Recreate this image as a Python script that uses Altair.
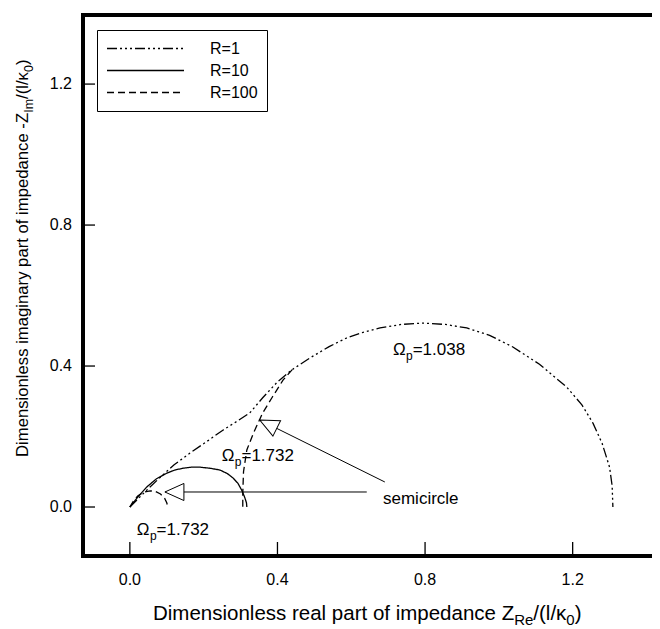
import altair as alt
import pandas as pd

# ---------------- data ----------------
r1_x = [0.0, 0.04, 0.08, 0.12, 0.163, 0.21, 0.252, 0.29, 0.325, 0.36, 0.40, 0.44, 0.488,
        0.54, 0.588, 0.63, 0.678, 0.735, 0.794, 0.855, 0.913, 0.975, 1.038, 1.11, 1.184,
        1.225, 1.255, 1.28, 1.30, 1.307, 1.309]
r1_y = [0.0, 0.042, 0.082, 0.12, 0.153, 0.187, 0.218, 0.243, 0.267, 0.31, 0.355, 0.39, 0.423,
        0.455, 0.48, 0.495, 0.508, 0.518, 0.522, 0.518, 0.508, 0.487, 0.454, 0.405, 0.34,
        0.29, 0.238, 0.18, 0.113, 0.06, 0.0]

r10_x = [0.0, 0.023, 0.046, 0.072, 0.1, 0.122, 0.144, 0.167, 0.19, 0.217, 0.244, 0.264,
         0.28, 0.293, 0.303, 0.311, 0.316, 0.317]
r10_y = [0.0, 0.03, 0.057, 0.08, 0.096, 0.105, 0.11, 0.113, 0.113, 0.11, 0.105, 0.095,
         0.082, 0.067, 0.048, 0.028, 0.012, 0.0]

# R=100: small high-frequency semicircle and steep branch
r100a_x = [0.0, 0.01, 0.022, 0.038, 0.055, 0.07, 0.083, 0.094, 0.1, 0.103]
r100a_y = [0.0, 0.018, 0.032, 0.042, 0.046, 0.044, 0.037, 0.025, 0.012, 0.0]
r100b_x = [0.44, 0.415, 0.385, 0.36, 0.335, 0.317, 0.308, 0.306, 0.306]
r100b_y = [0.39, 0.36, 0.31, 0.267, 0.21, 0.162, 0.1, 0.04, 0.0]

series_names = ["R=1", "R=10", "R=100"]
x_ticks = [0.0, 0.4, 0.8, 1.2]
y_ticks = [0.0, 0.4, 0.8, 1.2]

# annotations: (value text, anchor x, anchor y)
omega_values = ["1.038", "1.732", "1.732"]
omega_x = [0.713, 0.249, 0.019]
omega_y = [0.431, 0.130, -0.079]
semi_text = "semicircle"
semi_x, semi_y = 0.686, 0.0085

# arrows: tail -> tip
arrow_tail_x = [0.642, 0.691]
arrow_tail_y = [0.0426, 0.071]
arrow_tip_x = [0.095, 0.352]
arrow_tip_y = [0.0426, 0.247]
arrow_angle = [0, 26.6]

# ---------------- layout ----------------
W, H = 569, 541
X_DOM = [-0.127, 1.415]
Y_DOM = [-0.139, 1.396]
FONT = "Liberation Sans"

# Arial / Liberation Sans advance widths (per 1000 em)
AW = {'D': 722, 'i': 222, 'm': 833, 'e': 556, 'n': 556, 's': 500, 'o': 556, 'l': 222, ' ': 278,
      'r': 333, 'a': 556, 'p': 556, 't': 278, 'f': 278, 'c': 500, 'd': 556, 'g': 556, 'y': 500,
      'Z': 611, 'R': 722, 'I': 278, '/': 278, '(': 333, ')': 333, 'κ': 500, '0': 556, '-': 333,
      'Ω': 768, '=': 584, '.': 278, '1': 556, '2': 556, '3': 556, '7': 556, '8': 556}


def tw(s, fs):
    return sum(AW.get(ch, 556) for ch in s) * fs / 1000.0


xs = alt.Scale(domain=X_DOM, nice=False, zero=False)
ys = alt.Scale(domain=Y_DOM, nice=False, zero=False)


def X(field):
    return alt.X(field, scale=xs, axis=None)


def Y(field):
    return alt.Y(field, scale=ys, axis=None)


rows = []
for name, seg, xv, yv in [("R=1", "a", r1_x, r1_y), ("R=10", "a", r10_x, r10_y),
                          ("R=100", "a", r100a_x, r100a_y), ("R=100", "b", r100b_x, r100b_y)]:
    for i, (a, b) in enumerate(zip(xv, yv)):
        rows.append(dict(series=name, seg=name + seg, i=i, x=a, y=b))
curves = pd.DataFrame(rows)

lines = alt.Chart(curves).mark_line(color="black", strokeWidth=1.3).encode(
    x=X("x:Q"),
    y=Y("y:Q"),
    strokeDash=alt.StrokeDash(
        "series:N",
        scale=alt.Scale(domain=series_names,
                        range=[[10, 3, 2, 3, 2, 3, 2, 3], [1, 0], [7, 4]]),
        legend=alt.Legend(title=None, orient="none", legendX=14, legendY=15,
                          symbolType="stroke", symbolSize=77 ** 2, clipHeight=19,
                          symbolStrokeWidth=1.3, symbolStrokeColor="black",
                          labelFont=FONT, labelFontSize=16, labelColor="black",
                          labelOffset=25, rowPadding=3, padding=9,
                          strokeColor="black", fillColor="white"),
    ),
    detail="seg:N",
    order="i:Q",
)

layers = []

# frame: left, bottom, top
one = pd.DataFrame({"t": [0]})
layers.append(alt.Chart(one).mark_rule(color="black", strokeWidth=4).encode(
    x=alt.value(0), y=alt.value(-2), y2=alt.value(H + 2)))
layers.append(alt.Chart(one).mark_rule(color="black", strokeWidth=4).encode(
    x=alt.value(-2), x2=alt.value(W), y=alt.value(H)))
layers.append(alt.Chart(one).mark_rule(color="black", strokeWidth=4).encode(
    x=alt.value(-2), x2=alt.value(W), y=alt.value(0)))

# inward ticks and tick labels
xt = pd.DataFrame({"x": x_ticks, "lab": [f"{v:.1f}" for v in x_ticks]})
yt = pd.DataFrame({"y": y_ticks, "lab": [f"{v:.1f}" for v in y_ticks]})
layers.append(alt.Chart(xt).mark_rule(color="black", strokeWidth=1.3).encode(
    x=X("x:Q"), y=alt.value(H), y2=alt.value(H - 14)))
layers.append(alt.Chart(yt).mark_rule(color="black", strokeWidth=1.3).encode(
    y=Y("y:Q"), x=alt.value(0), x2=alt.value(12)))
layers.append(alt.Chart(xt).mark_text(font=FONT, fontSize=16, align="center", baseline="middle",
                                      color="black").encode(
    x=X("x:Q"), y=alt.value(H + 24), text="lab:N"))
layers.append(alt.Chart(yt).mark_text(font=FONT, fontSize=16, align="right", baseline="middle",
                                      color="black").encode(
    y=Y("y:Q"), x=alt.value(-11), text="lab:N"))

layers.append(lines)

# arrows
arr_rows = []
for k in range(len(arrow_tip_x)):
    arr_rows.append(dict(a=k, i=0, x=arrow_tail_x[k], y=arrow_tail_y[k]))
    arr_rows.append(dict(a=k, i=1, x=arrow_tip_x[k], y=arrow_tip_y[k]))
layers.append(alt.Chart(pd.DataFrame(arr_rows)).mark_line(color="black", strokeWidth=1).encode(
    x=X("x:Q"), y=Y("y:Q"), detail="a:N", order="i:Q"))
heads = pd.DataFrame({"x": arrow_tip_x, "y": arrow_tip_y, "ang": arrow_angle})
layers.append(alt.Chart(heads).mark_point(shape="M0,0L1,-0.45L1,0.45Z", filled=True, fill="white",
                                          stroke="black", strokeWidth=1, size=1444, opacity=1).encode(
    x=X("x:Q"), y=Y("y:Q"), angle=alt.Angle("ang:Q", scale=None)))


def data_text(txt, x, y, fs, dx=0, dy=0):
    return alt.Chart(pd.DataFrame({"t": [txt], "x": [x], "y": [y]})).mark_text(
        font=FONT, fontSize=fs, align="left", baseline="alphabetic", dx=dx, dy=dy, color="black"
    ).encode(text="t:N", x=X("x:Q"), y=Y("y:Q"))


def px_text(txt, x, y, fs, dx=0, dy=0, angle=0):
    return alt.Chart(pd.DataFrame({"t": [txt]})).mark_text(
        font=FONT, fontSize=fs, align="left", baseline="alphabetic", dx=dx, dy=dy, angle=angle,
        color="black"
    ).encode(text="t:N", x=alt.value(x), y=alt.value(y))


AF, SF = 17, 12
for val, ax_, ay_ in zip(omega_values, omega_x, omega_y):
    w1 = tw("Ω", AF)
    w2 = tw("p", SF)
    layers.append(data_text("Ω", ax_, ay_, AF))
    layers.append(data_text("p", ax_, ay_, SF, dx=w1, dy=5))
    layers.append(data_text("=" + val, ax_, ay_, AF, dx=w1 + w2))
layers.append(data_text(semi_text, semi_x, semi_y, AF))

# x-axis title with subscripts
XF, XS = 20.5, 15
x_pieces = [("Dimensionless real part of impedance Z", XF, 0), ("Re", XS, 5), ("/(l/κ", XF, 0),
            ("0", XS, 5), (")", XF, 0)]
cx = 70.0
for txt, fs, dy in x_pieces:
    layers.append(px_text(txt, cx, 605, fs, dy=dy))
    cx += tw(txt, fs)

# y-axis title with subscripts (rotated)
YF, YS = 16.7, 12.4
y_pieces = [("Dimensionless imaginary part of impedance -Z", YF, 0), ("Im", YS, 5),
            ("/(l/κ", YF, 0), ("0", YS, 5), (")", YF, 0)]
off = 0.0
for txt, fs, dy in y_pieces:
    layers.append(px_text(txt, -55, 442, fs, dx=off, dy=dy, angle=270))
    off += tw(txt, fs)

chart = alt.layer(*layers).properties(
    width=W, height=H,
    padding={"left": 75, "top": 7, "right": 0, "bottom": 71},
    autosize=alt.AutoSizeParams(type="none"),
).configure_view(stroke="transparent", strokeWidth=0)

chart.save("out.html", embed_options={"renderer": "svg", "actions": False})
